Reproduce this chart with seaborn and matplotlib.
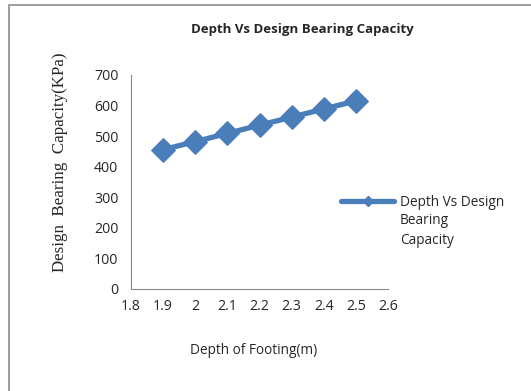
import matplotlib
matplotlib.use("Agg")
import matplotlib.pyplot as plt
import seaborn as sns
import pandas as pd
from matplotlib.lines import Line2D
from matplotlib.patches import Rectangle

depth = [1.9, 2.0, 2.1, 2.2, 2.3, 2.4, 2.5]
capacity = [456, 482, 509, 536, 562, 589, 615]
xticks = [1.8, 1.9, 2.0, 2.1, 2.2, 2.3, 2.4, 2.5, 2.6]
xtick_labels = ["1.8", "1.9", "2", "2.1", "2.2", "2.3", "2.4", "2.5", "2.6"]
yticks = [0, 100, 200, 300, 400, 500, 600, 700]

sns.set_style("white")
plt.rcParams['font.family'] = ['Open Sans', 'DejaVu Sans']

df = pd.DataFrame({"depth": depth, "capacity": capacity})
color = "#4A7EBB"

fig = plt.figure(figsize=(5.31, 3.91), dpi=100)
ax = fig.add_axes([131/531, 1-289/391, (388-131)/531, (289-75)/391])

sns.lineplot(data=df, x="depth", y="capacity", ax=ax, color=color,
             linewidth=3.8, marker="D", markersize=12.5, markeredgecolor=color,
             legend=False)

ax.set_xlim(1.8, 2.6)
ax.set_ylim(0, 700)
ax.set_xticks(xticks)
ax.set_xticklabels(xtick_labels)
ax.set_yticks(yticks)
ax.tick_params(axis="both", which="both", direction="out", length=4,
               color="#888888", labelsize=10.2, width=0.8)
ax.tick_params(axis="y", pad=5)
ax.tick_params(axis="x", pad=3)
for s in ["top", "right"]:
    ax.spines[s].set_visible(False)
for s in ["left", "bottom"]:
    ax.spines[s].set_color("#888888")
    ax.spines[s].set_linewidth(0.8)

ax.set_xlabel("")
ax.set_ylabel("")
fig.text(254/531, 1-351/391, "Depth of Footing(m)", ha="center", va="center", fontsize=9.8)
fig.text(60/531, 1-162/391, "Design  Bearing  Capacity(KPa)", ha="center", va="center",
         rotation=90, fontsize=12.2, family=["Liberation Serif"])
fig.text(302/531, 1-30/391, "Depth Vs Design Bearing Capacity", ha="center", va="center",
         fontsize=9.5, fontweight="bold")

handle = Line2D([], [], color=color, linewidth=3.8, marker="D", markersize=5)
leg = fig.legend([handle], ["Depth Vs Design"],
                 loc="center left", bbox_to_anchor=(341/531, 1-202/391),
                 frameon=False, fontsize=9.8, handlelength=3.9, handletextpad=0.4,
                 borderpad=0, borderaxespad=0)
fig.text(400/531, 1-221/391, "Bearing", ha="left", va="center", fontsize=9.8)
fig.text(400/531, 1-241/391, "Capacity", ha="left", va="center", fontsize=9.8)

fig.patches.append(Rectangle((9/531, -0.05), 1.1, 1-5/391+0.05, transform=fig.transFigure,
                             fill=False, edgecolor="#8c8c8c", linewidth=1.2))

fig.savefig("out.png", dpi=100)
